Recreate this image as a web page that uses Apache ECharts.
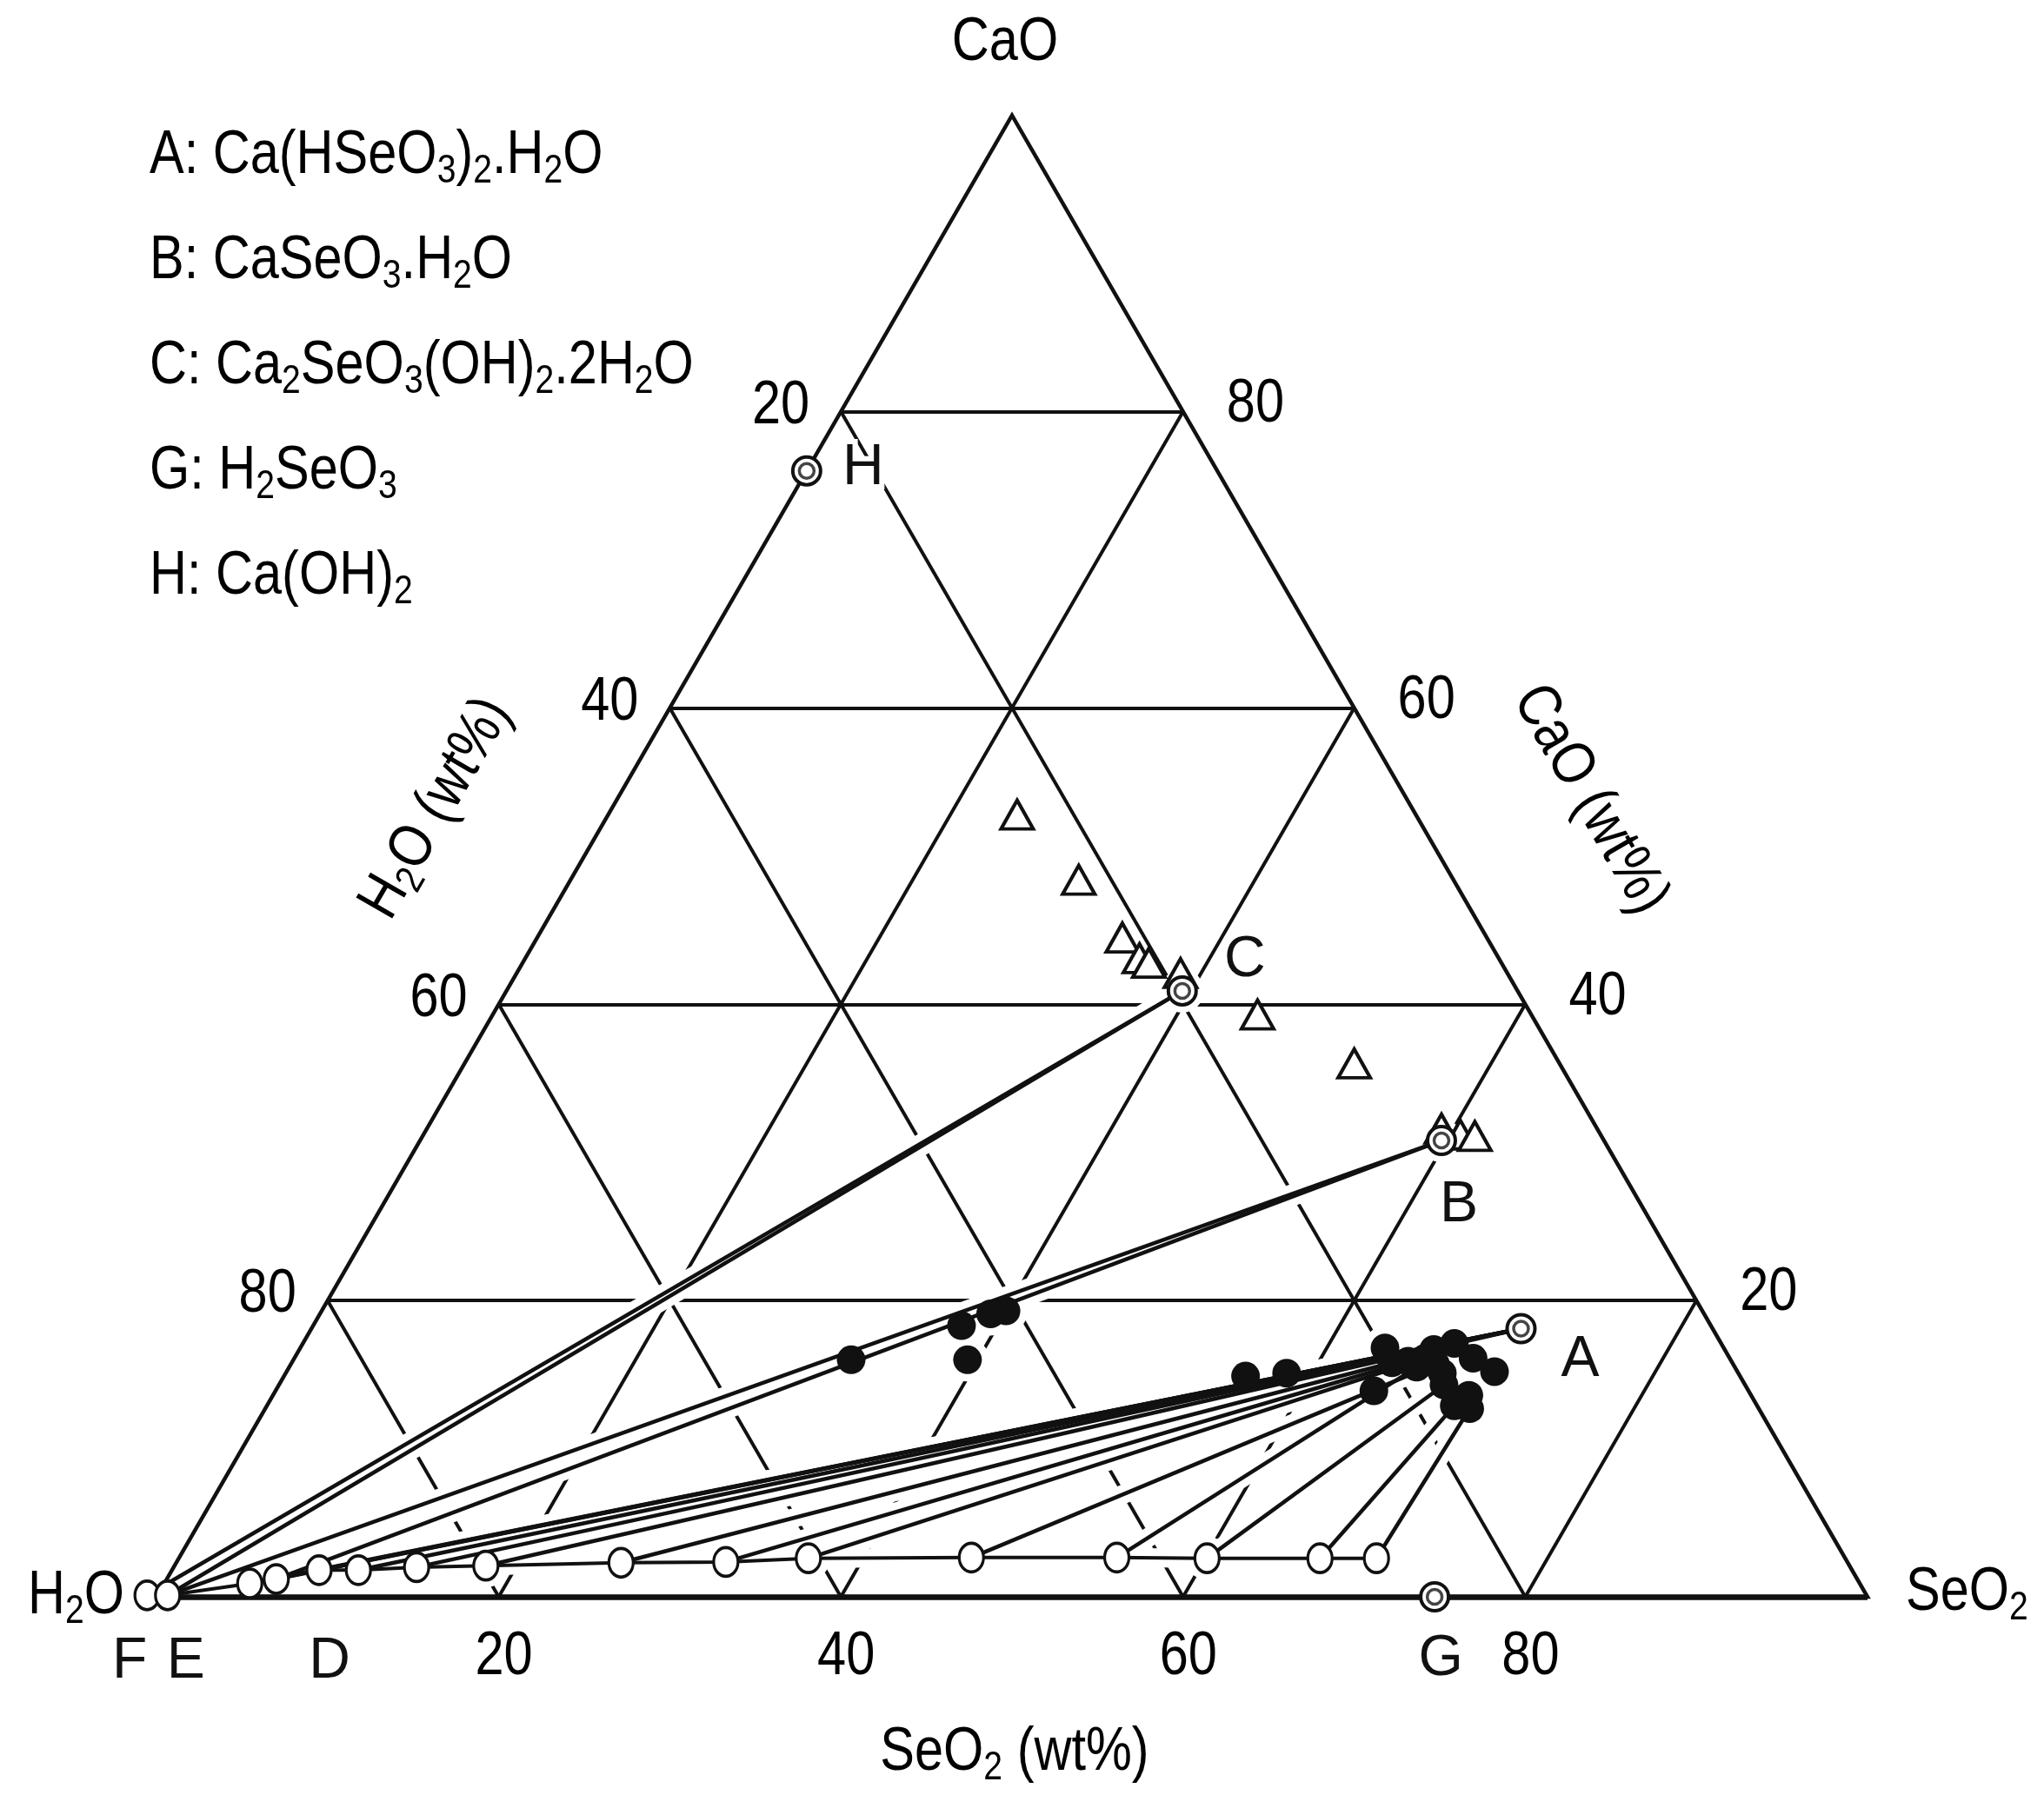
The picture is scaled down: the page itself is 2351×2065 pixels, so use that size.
<!DOCTYPE html>
<html>
<head>
<meta charset="utf-8">
<script src="https://cdn.jsdelivr.net/npm/echarts@6/dist/echarts.min.js"></script>
<style>
html,body{margin:0;padding:0;background:#fff;}
#chart{width:2351px;height:2065px;}
</style>
</head>
<body>
<div id="chart"></div>
<script>
// ---------------- data (wt%) ----------------
const gridLevels = [20, 40, 60, 80];
const seo2Ticks = [20, 40, 60, 80];   // bottom axis, SeO2 (wt%)
const h2oTicks  = [20, 40, 60, 80];   // left side, H2O (wt%)
const caoTicks  = [20, 40, 60, 80];   // right side, CaO (wt%)

// liquid phase (open circles) on the solubility curve
const liquidNames = ['F', 'E', '', '', 'D', '', '', '', '', '', '', '', '', '', '', ''];
const liquidSeO2  = [-0.6, 0.6, 5.0, 6.4, 8.6, 10.9, 14.2, 18.2, 26.0, 32.1, 36.8, 46.3, 54.8, 60.1, 66.7, 70.0];
const liquidCaO   = [0.1, 0.1, 0.9, 1.2, 1.8, 1.8, 2.0, 2.1, 2.3, 2.35, 2.6, 2.65, 2.65, 2.6, 2.6, 2.6];

// pure solid phases (double circles)
const solidNames = ['A', 'B', 'C', 'G', 'H'];
const solidSeO2  = [70.7, 59.7, 39.5, 74.7, 0.0];
const solidCaO   = [18.1, 30.8, 40.9, 0.0, 76.0];

// wet residues (filled circles)
const residueSeO2 = [32.6, 37.9, 39.4, 39.2, 40.0, 56.2, 58.5, 63.4, 64.2, 66.3, 67.3, 68.9, 70.6, 69.9, 67.6, 64.3, 65.2, 66.1, 66.9, 65.9, 68.1, 69.4, 70.4];
const residueCaO  = [16.0, 18.3, 16.0, 19.1, 19.3, 14.9, 15.1, 16.8, 13.9, 16.7, 17.1, 16.1, 15.2, 13.6, 15.1, 15.8, 15.9, 16.1, 15.7, 15.5, 14.3, 12.9, 12.7];

// open triangles
const triSeO2 = [23.9, 29.7, 34.2, 35.9, 36.6, 38.8, 44.7, 52.0, 59.3, 60.6, 61.5];
const triCaO  = [52.8, 48.4, 44.5, 43.1, 42.8, 42.1, 39.3, 36.0, 31.6, 31.2, 31.1];

// tie lines: liquid index -> end composition
const tieLiquid  = [0, 1, 1, 3, 2, 3, 4, 5, 6, 7, 8, 9, 10, 11, 12, 13, 14, 15];
const tieEndSeO2 = [39.5, 39.5, 59.7, 59.7, 70.7, 70.7, 70.7, 70.7, 70.7, 70.7, 64.3, 65.2, 66.1, 66.9, 65.9, 68.1, 69.4, 70.4];
const tieEndCaO  = [40.9, 40.9, 30.8, 30.8, 18.1, 18.1, 18.1, 18.1, 18.1, 18.1, 15.8, 15.9, 16.1, 15.7, 15.5, 14.3, 12.9, 12.7];

const legendItems = ['A: Ca(HSeO_3)_2.H_2O', 'B: CaSeO_3.H_2O', 'C: Ca_2SeO_3(OH)_2.2H_2O', 'G: H_2SeO_3', 'H: Ca(OH)_2'];

// ---------------- helpers ----------------
const SQ3 = Math.sqrt(3) / 2;
const tern = (seo2, cao) => [seo2 + cao / 2, cao * SQ3];
const FONT = '"Liberation Sans","Arial",sans-serif';
const INK = '#111';
const SX = 0.85;   // condensed look of the original lettering

function richStr(str) {
  let out = '', buf = '';
  for (let i = 0; i < str.length; i++) {
    if (str[i] === '_') {
      if (buf) { out += '{n|' + buf + '}'; buf = ''; }
      out += '{s|' + str[i + 1] + '}';
      i++;
    } else buf += str[i];
  }
  if (buf) out += '{n|' + buf + '}';
  return out;
}
const RICH = {
  n: { fontSize: 70, lineHeight: 80, fontFamily: FONT, color: INK, verticalAlign: 'middle' },
  s: { fontSize: 46, lineHeight: 46, fontFamily: FONT, color: INK, verticalAlign: 'bottom' }
};

// ---------------- geometry from data ----------------
const gridSegs = [];
gridLevels.forEach(v => {
  gridSegs.push({ coords: [tern(0, v), tern(100 - v, v)] });       // CaO = v
  gridSegs.push({ coords: [tern(v, 0), tern(v, 100 - v)] });       // SeO2 = v
  gridSegs.push({ coords: [tern(100 - v, 0), tern(0, 100 - v)] }); // H2O = v
});
const border = [{ coords: [tern(0, 0), tern(100, 0), tern(0, 100), tern(0, 0)] }];
const baseLine = [{ coords: [tern(0, 0), tern(100, 0)] }];

const liquidPts = liquidSeO2.map((s, i) => tern(s, liquidCaO[i]));
const curve = [{ coords: liquidPts }];
const ties = tieLiquid.map((li, i) => ({ coords: [liquidPts[li], tern(tieEndSeO2[i], tieEndCaO[i])] }));
const solidPts = solidSeO2.map((s, i) => tern(s, solidCaO[i]));
const residuePts = residueSeO2.map((s, i) => tern(s, residueCaO[i]));
const triPts = triSeO2.map((s, i) => tern(s, triCaO[i]));

// label offsets (style)
const solidLabelOffset = { A: [68, 36], B: [20, 75], C: [72, -35], G: [7, 72], H: [65, -3] };
const liquidLabelOffset = { F: [-20, 77], E: [21, 77], D: [12, 105] };
const letterLabel = (name, off) => ({
  show: true, position: 'inside', offset: off, formatter: name,
  fontSize: 66, fontFamily: FONT, color: INK,
  textBorderColor: '#fff', textBorderWidth: 12
});

const lineSeries = (data, width, color, z, poly) => ({
  type: 'lines', coordinateSystem: 'cartesian2d', polyline: !!poly, silent: true, z: z, clip: false,
  data: data, lineStyle: { color: color, width: width, opacity: 1, curveness: 0 }
});

const HALO = 22;
const UNIT = 19.68;

const option = {
  backgroundColor: '#fff',
  animation: false,
  grid: { left: 180, top: 1837 - 100 * SQ3 * UNIT, width: 100 * UNIT, height: 100 * SQ3 * UNIT },
  xAxis: { type: 'value', min: 0, max: 100, show: false },
  yAxis: { type: 'value', min: 0, max: 100 * SQ3, show: false },
  series: [
    lineSeries(gridSegs, 4, INK, 1, false),
    // white halos that break the grid around the data
    lineSeries(ties, HALO, '#fff', 2, false),
    lineSeries(curve, HALO, '#fff', 2, true),
    {
      type: 'scatter', z: 2, silent: true, clip: false, symbol: 'circle', symbolSize: 50,
      itemStyle: { color: '#fff', opacity: 1 },
      data: liquidPts.concat(solidPts, residuePts)
    },
    lineSeries(border, 4.5, INK, 3, true),
    lineSeries(baseLine, 6.5, INK, 3, false),
    lineSeries(curve, 4, INK, 4, true),
    lineSeries(ties, 4.5, INK, 4, false),
    {
      type: 'scatter', z: 5, silent: true, clip: false, symbol: 'circle', symbolSize: 33,
      itemStyle: { color: INK, opacity: 1 },
      data: residuePts
    },
    {
      type: 'scatter', z: 5, silent: true, clip: false, symbol: 'triangle', symbolSize: [37, 33],
      itemStyle: { color: '#fff', borderColor: INK, borderWidth: 4, opacity: 1 },
      data: triPts
    },
    {
      type: 'scatter', z: 6, silent: true, clip: false, symbol: 'circle', symbolSize: [28, 33],
      itemStyle: { color: '#fff', borderColor: INK, borderWidth: 3.5, opacity: 1 },
      data: liquidPts.map((p, i) => liquidNames[i]
        ? { value: p, label: letterLabel(liquidNames[i], liquidLabelOffset[liquidNames[i]]) }
        : { value: p })
    },
    {
      type: 'scatter', z: 6, silent: true, clip: false, symbol: 'circle', symbolSize: 32,
      itemStyle: { color: '#fff', borderColor: INK, borderWidth: 4, opacity: 1 },
      data: solidPts.map((p, i) => ({ value: p, label: letterLabel(solidNames[i], solidLabelOffset[solidNames[i]]) }))
    },
    {
      type: 'scatter', z: 7, silent: true, clip: false, symbol: 'circle', symbolSize: 17,
      itemStyle: { color: '#fff', borderColor: '#444', borderWidth: 3.5, opacity: 1 },
      data: solidPts
    }
  ]
};

const chart = echarts.init(document.getElementById('chart'), null, { renderer: 'canvas' });
chart.setOption(option);

// ---------------- text placed through the grid's scales ----------------
const toPx = p => chart.convertToPixel({ xAxisIndex: 0, yAxisIndex: 0 }, p);
const txt = (x, y, s, align, extra) => Object.assign({
  type: 'text', x: x, y: y, scaleX: SX, z: 100, silent: true,
  style: { text: richStr(s), rich: RICH, align: align, verticalAlign: 'middle' }
}, extra || {});

const graphics = [];
legendItems.forEach((t, i) => graphics.push(txt(172, 180 + i * 121, t, 'left')));
seo2Ticks.forEach(v => { const p = toPx(tern(v, 0)); graphics.push(txt(p[0] + 6, p[1] + 70, String(v), 'center')); });
h2oTicks.forEach(v => { const p = toPx(tern(0, 100 - v)); graphics.push(txt(p[0] - 36, p[1] - 6, String(v), 'right')); });
caoTicks.forEach(v => { const p = toPx(tern(100 - v, v)); graphics.push(txt(p[0] + 50, p[1] - 8, String(v), 'left')); });

const pTop = toPx(tern(0, 100)), pLeft = toPx(tern(0, 0)), pRight = toPx(tern(100, 0));
graphics.push(txt(pTop[0] - 8, 50, 'CaO', 'center'));
graphics.push(txt(pLeft[0] - 37, pLeft[1], 'H_2O', 'right'));
graphics.push(txt(pRight[0] + 44, pRight[1] - 4, 'SeO_2', 'left'));
graphics.push(txt(1167, 2017, 'SeO_2 (wt%)', 'center'));
graphics.push(txt(502, 930, 'H_2O (wt%)', 'center', { rotation: Math.PI / 3 }));
graphics.push(txt(1829, 920, 'CaO (wt%)', 'center', { rotation: -Math.PI / 3 }));

chart.setOption({ graphic: graphics });
</script>
</body>
</html>
